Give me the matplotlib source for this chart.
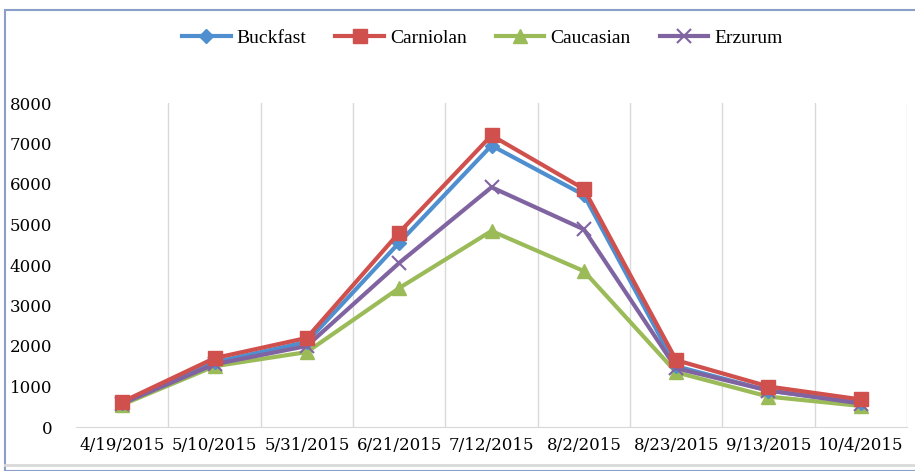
import matplotlib
matplotlib.use('Agg')
import matplotlib.pyplot as plt
from matplotlib.patches import Rectangle

# Data
dates = ['4/19/2015', '5/10/2015', '5/31/2015', '6/21/2015', '7/12/2015',
         '8/2/2015', '8/23/2015', '9/13/2015', '10/4/2015']
buckfast = [600, 1600, 2100, 4550, 6950, 5730, 1500, 900, 600]
carniolan = [620, 1700, 2200, 4800, 7200, 5880, 1650, 1000, 680]
caucasian = [550, 1500, 1850, 3430, 4840, 3850, 1350, 750, 520]
erzurum = [580, 1550, 2000, 4050, 5920, 4880, 1450, 900, 580]

plt.rcParams['font.family'] = ['Liberation Serif', 'DejaVu Serif']

fig = plt.figure(figsize=(9.15, 4.71), dpi=100)
ax = fig.add_axes([76 / 915, 44 / 471, 831 / 915, 324 / 471])

x = list(range(len(dates)))
ax.plot(x, buckfast, color='#4f8fcf', lw=3, marker='D', ms=7, label='Buckfast', zorder=3)
ax.plot(x, carniolan, color='#d0504d', lw=3, marker='s', ms=10, label='Carniolan', zorder=4)
ax.plot(x, caucasian, color='#9bbb59', lw=3, marker='^', ms=10, label='Caucasian', zorder=2)
ax.plot(x, erzurum, color='#8064a2', lw=3, marker='x', ms=10, mew=1.5, label='Erzurum', zorder=3)

ax.set_xlim(-0.5, len(dates) - 0.5)
ax.set_ylim(0, 8000)
ax.set_yticks(range(0, 8001, 1000))
ax.set_xticks(x)
ax.set_xticklabels(dates)
for b in range(1, len(dates)):
    ax.axvline(b - 0.5, color='#d9d9d9', lw=1, zorder=0)
ax.axvline(len(dates) - 0.5, color='#d9d9d9', lw=1, zorder=0)

for s in ['top', 'right', 'left']:
    ax.spines[s].set_visible(False)
ax.spines['bottom'].set_color('#d9d9d9')
ax.tick_params(axis='both', length=0, labelsize=12, colors='black')
for lab in ax.get_xticklabels() + ax.get_yticklabels():
    lab.set_family('DejaVu Serif')
ax.tick_params(axis='x', pad=7)
ax.tick_params(axis='y', pad=17)

fig.legend(loc='center', bbox_to_anchor=(0.527, 1 - 38 / 471), ncol=4, frameon=False,
           fontsize=14, handlelength=2.5, columnspacing=1.5, handletextpad=0.3)

# outer frame lines
fig.add_artist(Rectangle((5 / 915, 0), 915, (471 - 10) / 471, transform=fig.transFigure,
                         fill=False, edgecolor='#8a9fc8', lw=1.5))
fig.add_artist(plt.Line2D([5 / 915, 1], [6 / 471, 6 / 471], transform=fig.transFigure,
                          color='#d9d9d9', lw=2))

fig.savefig('out.png', dpi=100)
